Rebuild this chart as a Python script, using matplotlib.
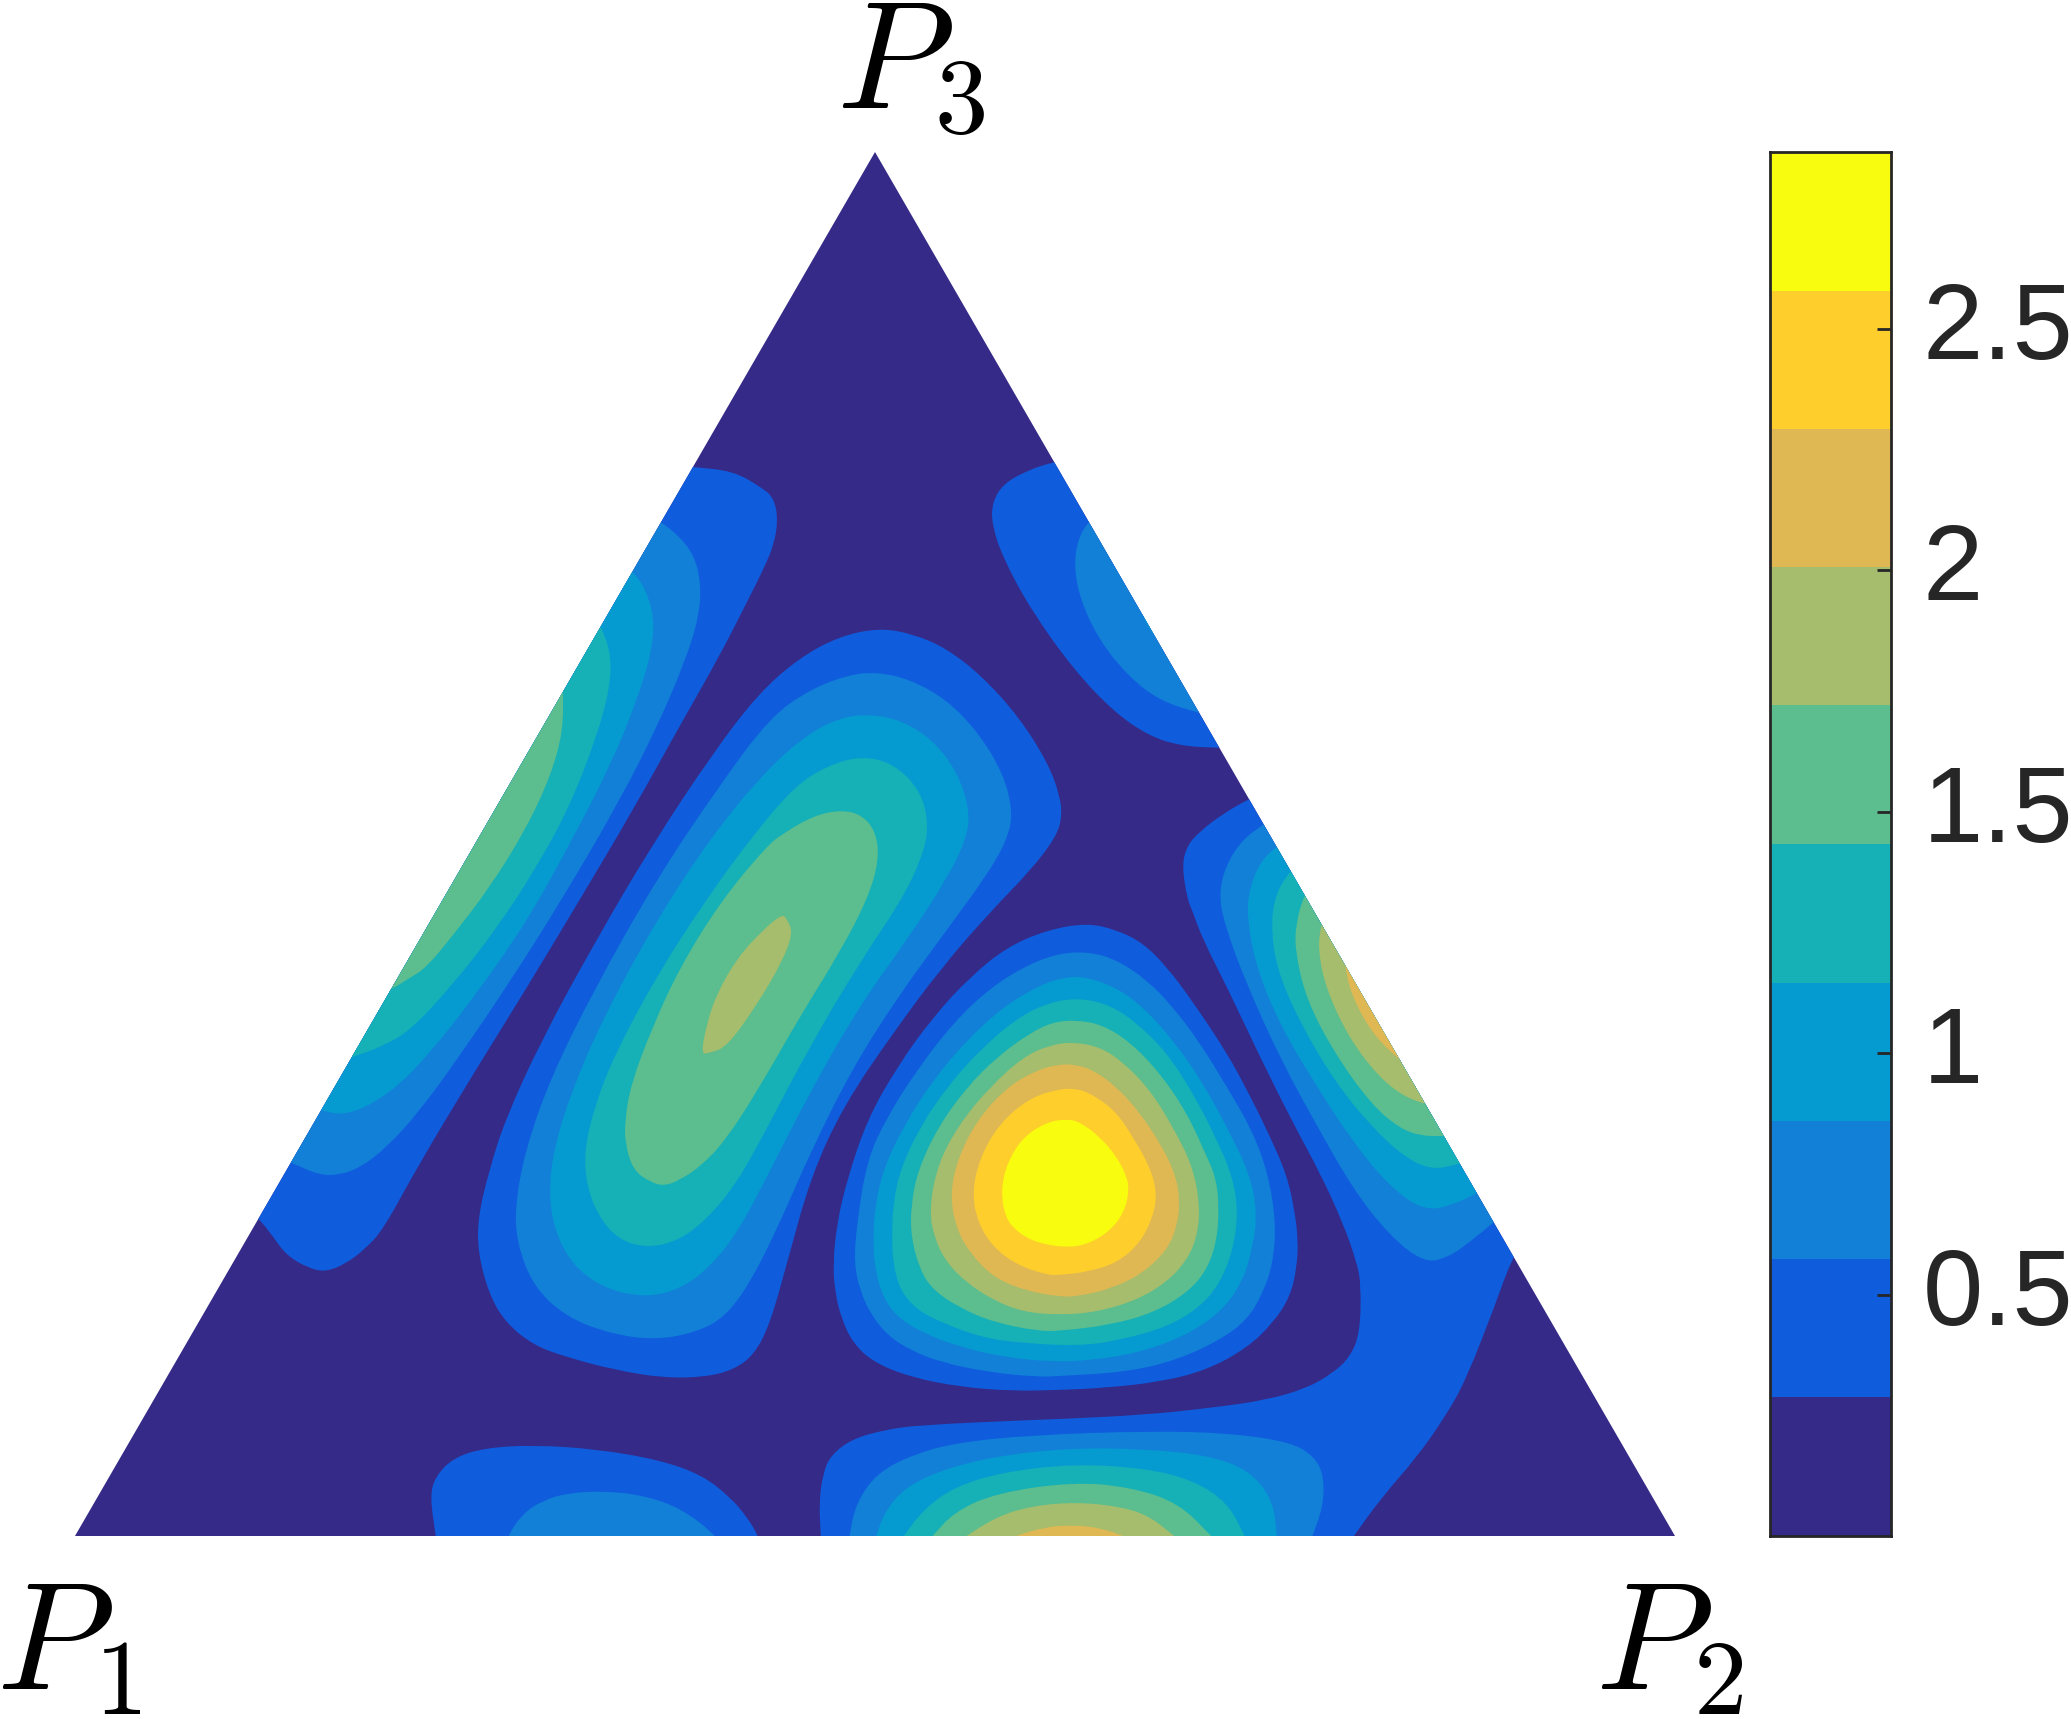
import numpy as np
from matplotlib import pyplot as plt
from matplotlib.path import Path
from matplotlib.patches import PathPatch, Polygon
from matplotlib.colors import ListedColormap, BoundaryNorm
from matplotlib.transforms import ScaledTranslation

W, H = 2071, 1719

level_edges = [0, 0.287, 0.573, 0.860, 1.146, 1.433, 1.720, 2.006, 2.293, 2.579, 2.866]
level_colors = ['#352a87', '#0f5cdd', '#1280d7', '#069bd0', '#16b1b6',
                '#5cbd8f', '#a5bd6c', '#e0b853', '#fdce2c', '#f8fc0e']
bar_ticks = [0.5, 1, 1.5, 2, 2.5]
bar_labels = ['0.5', '1', '1.5', '2', '2.5']
corners = [(75, 1536), (1675, 1536), (875, 152)]

# contour outlines, x y in reference pixels
# left edge lobe
a1 = [(663,464),(693,467),(733,471),(761,487),(774,498),(778,520),(774,544),(765,566),(747,602),(719,657),(683,720),(633,810),(579,901),(526,989),(472,1076),(419,1164),(383,1230),(365,1249),(347,1263),(326,1272),(308,1268),(286,1255),(272,1235),(259,1219),(240,1200)]
a2 = [(640,508),(661,522),(679,536),(694,555),(701,583),(699,616),(686,659),(658,725),(619,802),(561,901),(511,980),(461,1054),(419,1112),(386,1148),(361,1167),(340,1175),(319,1175),(292,1163),(262,1150)]
a3 = [(615,555),(633,572),(645,588),(654,616),(652,651),(636,703),(611,764),(572,840),(526,923),(472,1000),(429,1054),(397,1087),(365,1108),(340,1115),(322,1110),(292,1105)]
a4 = [(585,600),(601,626),(611,654),(610,687),(597,736),(569,808),(536,868),(497,928),(454,983),(411,1030),(383,1046),(353,1057),(323,1066)]
a5 = [(563,660),(563,691),(563,731),(551,775),(526,829),(490,887),(454,934),(426,968),(408,979),(392,989),(362,1002)]
# centre left lobe
b1 = [(880,628),(913,634),(946,648),(982,676),(1019,717),(1048,763),(1060,796),(1062,817),(1056,837),(1031,870),(991,911),(942,967),(893,1033),(844,1105),(811,1176),(787,1263),(770,1324),(754,1355),(733,1370),(705,1377),(664,1378),(615,1370),(566,1357),(533,1345),(505,1322),(489,1294),(478,1253),(478,1217),(489,1171),(505,1120),(542,1039),(595,942),(652,845),(713,753),(758,694),(799,658),(840,636)]
b2 = [(876,672),(909,679),(946,699),(978,732),(1003,773),(1013,812),(1007,840),(987,875),(946,931),(897,998),(852,1069),(811,1151),(778,1227),(750,1283),(725,1317),(697,1332),(656,1340),(611,1334),(566,1317),(533,1286),(517,1243),(515,1207),(525,1151),(550,1079),(595,988),(656,880),(717,789),(770,717),(811,689),(848,675)]
b3 = [(868,714),(901,720),(933,740),(958,773),(970,812),(966,840),(946,880),(909,937),(860,1005),(811,1090),(770,1171),(738,1232),(709,1268),(680,1289),(648,1297),(611,1291),(578,1271),(558,1240),(549,1202),(552,1156),(570,1095),(603,1018),(656,921),(713,834),(770,766),(811,732),(840,718)]
b4 = [(860,756),(893,763),(921,791),(929,827),(921,860),(901,901),(860,962),(811,1044),(766,1130),(738,1181),(709,1217),(680,1240),(648,1248),(619,1240),(599,1217),(587,1187),(584,1151),(595,1105),(615,1054),(656,977),(705,901),(754,834),(795,786),(827,766)]
b5 = [(842,810),(862,815),(876,832),(879,860),(868,898),(840,952),(799,1018),(758,1090),(725,1141),(701,1166),(680,1180),(664,1186),(650,1182),(633,1170),(625,1143),(625,1120),(631,1084),(652,1028),(680,967),(721,901),(766,847),(782,834),(815,815)]
b6 = [(782,914),(787,919),(793,933),(782,962),(758,1003),(727,1047),(709,1053),(701,1054),(707,1023),(717,993),(738,957),(762,931)]
# centre lobe with the peak
c1 = [(1087,923),(1117,930),(1143,943),(1167,967),(1193,1002),(1227,1053),(1247,1090),(1267,1130),(1287,1175),(1295,1213),(1298,1240),(1297,1267),(1290,1297),(1273,1323),(1247,1348),(1207,1370),(1160,1382),(1103,1388),(1060,1390),(1013,1391),(960,1387),(910,1377),(873,1362),(853,1343),(842,1320),(835,1293),(833,1263),(837,1223),(847,1180),(867,1120),(897,1067),(933,1017),(970,977),(1007,947),(1047,930)]
c2 = [(1090,952),(1117,960),(1147,980),(1173,1007),(1200,1043),(1227,1087),(1252,1130),(1268,1173),(1276,1223),(1273,1263),(1263,1293),(1247,1320),(1220,1340),(1177,1360),(1127,1372),(1060,1376),(1037,1377),(987,1372),(940,1362),(910,1350),(887,1335),(870,1313),(860,1290),(854,1263),(857,1223),(867,1160),(887,1117),(917,1070),(953,1023),(990,988),(1027,965),(1060,953)]
c3 = [(1087,977),(1117,988),(1143,1007),(1173,1040),(1203,1083),(1230,1133),(1250,1175),(1257,1212),(1253,1247),(1242,1283),(1220,1313),(1183,1337),(1137,1353),(1093,1360),(1053,1362),(1003,1357),(960,1347),(923,1333),(897,1317),(883,1297),(875,1270),(873,1240),(875,1207),(883,1170),(903,1127),(933,1080),(967,1040),(1003,1007),(1040,985),(1065,977)]
c4 = [(1080,998),(1110,1005),(1137,1023),(1167,1053),(1193,1093),(1217,1140),(1233,1178),(1238,1213),(1233,1250),(1220,1283),(1200,1307),(1167,1327),(1120,1340),(1080,1346),(1020,1343),(980,1337),(943,1323),(917,1310),(900,1290),(893,1263),(892,1237),(893,1205),(900,1170),(920,1127),(947,1087),(980,1050),(1017,1018),(1050,1002)]
c5 = [(1077,1020),(1103,1025),(1130,1042),(1160,1073),(1187,1113),(1207,1157),(1216,1178),(1219,1206),(1217,1240),(1207,1270),(1187,1293),(1153,1313),(1110,1325),(1060,1331),(1037,1331),(993,1322),(960,1308),(933,1290),(920,1270),(911,1237),(911,1205),(918,1170),(938,1127),(967,1087),(997,1057),(1030,1033),(1053,1022)]
c6 = [(1073,1042),(1100,1047),(1123,1062),(1150,1090),(1173,1127),(1193,1167),(1200,1207),(1197,1237),(1187,1260),(1167,1282),(1137,1300),(1097,1312),(1060,1315),(1023,1312),(993,1300),(967,1283),(947,1263),(935,1240),(929,1210),(938,1163),(960,1123),(990,1087),(1023,1057),(1050,1045)]
c7 = [(1077,1065),(1093,1070),(1117,1087),(1140,1113),(1160,1143),(1175,1173),(1180,1200),(1177,1227),(1167,1250),(1143,1273),(1113,1288),(1080,1296),(1060,1297),(1023,1290),(993,1277),(970,1253),(957,1230),(950,1197),(957,1160),(977,1120),(1007,1087),(1037,1070),(1060,1064)]
c8 = [(1077,1088),(1097,1097),(1117,1113),(1133,1137),(1150,1167),(1157,1193),(1153,1217),(1140,1243),(1117,1263),(1087,1272),(1060,1275),(1047,1275),(1017,1265),(993,1247),(978,1223),(972,1193),(980,1157),(1000,1123),(1027,1100),(1053,1090)]
c9 = [(1067,1119),(1080,1122),(1100,1137),(1117,1157),(1127,1177),(1129,1190),(1125,1210),(1113,1228),(1093,1242),(1070,1248),(1037,1243),(1017,1232),(1005,1217),(1001,1190),(1007,1163),(1023,1137),(1047,1122)]
# top right lobe
d1 = [(1084,455),(1054,462),(1028,470),(1003,484),(992,503),(992,525),(1003,558),(1031,610),(1074,670),(1114,712),(1149,736),(1181,746),(1219,748),(1249,748)]
d2 = [(1110,500),(1088,522),(1078,539),(1074,566),(1080,599),(1099,640),(1128,676),(1160,701),(1199,713),(1229,720)]
d3 = [(1139,605),(1147,626),(1158,640),(1175,620)]
# right edge lobe, level 1 runs on into the bottom lobe
e1 = [(1279,785),(1249,799),(1224,813),(1199,832),(1187,846),(1182,865),(1187,898),(1192,910),(1203,940),(1227,987),(1260,1057),(1293,1123),(1320,1173),(1343,1223),(1357,1263),(1361,1285),(1360,1333),(1350,1357),(1333,1373),(1307,1388),(1267,1400),(1210,1408),(1143,1415),(1060,1419),(1031,1420),(919,1425),(884,1430),(852,1439),(831,1455),(823,1473),(819,1503),(821,1537),(821,1570),(1330,1570),(1353,1537),(1382,1497),(1417,1457),(1445,1417),(1466,1380),(1497,1300),(1506,1274),(1514,1257),(1530,1220)]
e2 = [(1290,805),(1264,824),(1242,840),(1226,865),(1219,893),(1224,923),(1246,983),(1281,1060),(1317,1126),(1353,1189),(1389,1235),(1424,1263),(1449,1257),(1471,1241),(1493,1223),(1520,1200)]
e3 = [(1300,830),(1276,847),(1260,862),(1249,890),(1247,917),(1256,967),(1281,1027),(1317,1087),(1353,1142),(1389,1186),(1424,1211),(1453,1205),(1477,1193),(1507,1178)]
e4 = [(1310,850),(1290,871),(1276,893),(1271,923),(1276,967),(1299,1021),(1335,1082),(1371,1126),(1403,1156),(1431,1170),(1459,1164),(1489,1155)]
e5 = [(1320,870),(1304,895),(1296,923),(1295,950),(1306,999),(1335,1054),(1371,1104),(1399,1128),(1421,1136),(1442,1136),(1472,1136)]
e6 = [(1330,895),(1321,924),(1318,950),(1326,989),(1349,1038),(1378,1076),(1403,1096),(1425,1104),(1455,1112)]
e7 = [(1340,935),(1345,965),(1351,994),(1371,1032),(1399,1060),(1429,1082)]
# bottom lobe
f2 = [(845,1570),(849,1537),(856,1503),(877,1473),(912,1455),(954,1443),(1031,1435),(1151,1431),(1228,1433),(1291,1442),(1315,1457),(1324,1477),(1323,1507),(1312,1537),(1300,1570)]
f3 = [(865,1570),(876,1537),(884,1513),(905,1487),(947,1468),(1003,1455),(1073,1448),(1144,1449),(1207,1455),(1249,1470),(1273,1500),(1277,1537),(1279,1570)]
f4 = [(880,1570),(903,1537),(923,1510),(954,1487),(1003,1472),(1073,1464),(1144,1468),(1193,1480),(1228,1503),(1245,1537),(1262,1570)]
f5 = [(905,1565),(932,1537),(954,1512),(996,1493),(1073,1482),(1130,1487),(1179,1503),(1212,1537),(1245,1570)]
f6 = [(930,1560),(965,1537),(996,1517),(1031,1506),(1077,1502),(1123,1507),(1151,1517),(1175,1537),(1205,1560)]
f7 = [(980,1550),(1012,1537),(1045,1527),(1073,1525),(1101,1528),(1126,1537),(1155,1550)]
# bottom left lobe
g1 = [(440,1570),(436,1537),(430,1497),(435,1477),(453,1458),(484,1448),(533,1445),(596,1449),(660,1460),(702,1475),(730,1497),(747,1517),(759,1537),(770,1570)]
g2 = [(497,1570),(507,1537),(523,1513),(544,1500),(568,1493),(603,1491),(642,1495),(681,1508),(718,1537),(740,1570)]

outlines = [(1, a1), (2, a2), (3, a3), (4, a4), (5, a5),
            (1, b1), (2, b2), (3, b3), (4, b4), (5, b5), (6, b6),
            (1, c1), (2, c2), (3, c3), (4, c4), (5, c5), (6, c6), (7, c7), (8, c8), (9, c9),
            (1, d1), (2, d2), (3, d3),
            (1, e1), (2, e2), (3, e3), (4, e4), (5, e5), (6, e6), (7, e7),
            (2, f2), (3, f3), (4, f4), (5, f5), (6, f6), (7, f7),
            (1, g1), (2, g2)]


# closed outline as quadratic bezier pieces through the segment midpoints
def outline_path(pts):
    pts = np.array(pts, dtype=float)
    mids = (pts + np.roll(pts, -1, axis=0))/2
    verts = [mids[-1]]
    codes = [Path.MOVETO]
    for p, m in zip(pts, mids):
        verts += [p, m]
        codes += [Path.CURVE3, Path.CURVE3]
    return Path(verts, codes)


plt.rcParams['font.family'] = ['Liberation Sans', 'DejaVu Sans']
plt.rcParams['mathtext.fontset'] = 'cm'

fig = plt.figure(figsize=(W/100, H/100), dpi=100)

ax = fig.add_axes([75/W, 1-1536/H, 1600/W, 1384/H])
ax.set_xlim(75, 1675)
ax.set_ylim(1536, 152)
ax.axis('off')

tri = Polygon(corners, closed=True, facecolor=level_colors[0], edgecolor='none')
ax.add_patch(tri)
for lev, pts in outlines:
    patch = PathPatch(outline_path(pts), facecolor=level_colors[lev], edgecolor='none')
    ax.add_patch(patch)
    patch.set_clip_path(tri)

ax.text(910, 69, r'$P_3$', fontsize=110, ha='center', va='center', clip_on=False)
ax.text(69, 1650, r'$P_1$', fontsize=110, ha='center', va='center', clip_on=False)
ax.text(1669, 1650, r'$P_2$', fontsize=110, ha='center', va='center', clip_on=False)

cax = fig.add_axes([1770/W, 1-1536/H, 120.5/W, 1384/H])
cmap = ListedColormap(level_colors)
norm = BoundaryNorm(level_edges, cmap.N)
cax.pcolormesh([0, 1], level_edges, np.array(level_edges[:-1]).reshape(-1, 1) + 0.01,
               cmap=cmap, norm=norm, shading='flat')
cax.set_xticks([])
cax.yaxis.tick_right()
cax.set_yticks(bar_ticks)
cax.set_yticklabels(bar_labels)
cax.tick_params(axis='y', direction='in', length=10, width=2, pad=23,
                labelsize=78, colors='#262626')
shift = ScaledTranslation(0, 9/100, fig.dpi_scale_trans)
for lab in cax.get_yticklabels():
    lab.set_transform(lab.get_transform() + shift)
for s in cax.spines.values():
    s.set_linewidth(2)
    s.set_color('#262626')

fig.savefig('out.png', dpi=100)
